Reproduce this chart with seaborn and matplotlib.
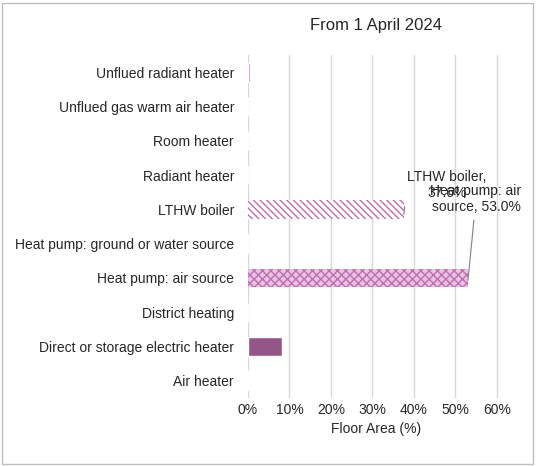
import matplotlib
matplotlib.use("Agg")
import matplotlib.pyplot as plt
import seaborn as sns
import pandas as pd

categories = ["Unflued radiant heater", "Unflued gas warm air heater", "Room heater",
              "Radiant heater", "LTHW boiler", "Heat pump: ground or water source",
              "Heat pump: air source", "District heating", "Direct or storage electric heater",
              "Air heater"]
values = [0.4, 0, 0, 0, 37.6, 0, 53.0, 0, 8.1, 0.2]
ticks = [0, 10, 20, 30, 40, 50, 60]

sns.set_theme(style="white")
plt.rcParams['font.family'] = ['Liberation Sans', 'DejaVu Sans']
fig = plt.figure(figsize=(5.36, 4.66), dpi=100)
ax = fig.add_axes([248/536, 1-398/466, 257/536, 343/466])
df = pd.DataFrame({"cat": categories, "val": values})
sns.barplot(data=df, y="cat", x="val", orient="h", color="#9e4a8e", width=0.55, ax=ax, zorder=3)
for p, c in zip(ax.patches, categories):
    if c == "LTHW boiler":
        p.set_facecolor("white"); p.set_edgecolor("#c06cb3"); p.set_hatch("\\\\\\\\\\"); p.set_linewidth(0)
    elif c == "Heat pump: air source":
        p.set_facecolor("#e8c3e0"); p.set_edgecolor("#c06cb3"); p.set_hatch("xxxx"); p.set_linewidth(0)
    elif c in ("Unflued radiant heater", "Air heater"):
        p.set_facecolor("#c06cb3")
ax.set_xlim(0, 62)
ax.set_xticks(ticks)
ax.set_xticklabels([f"{t}%" for t in ticks], fontsize=10)
ax.tick_params(axis="y", labelsize=10, length=0, pad=10)
ax.tick_params(axis="x", length=0)
ax.grid(axis="x", color="#d9d9d9", lw=1, zorder=0)
for s in ax.spines.values():
    s.set_visible(False)
ax.set_ylabel("")
ax.set_xlabel("Floor Area (%)", fontsize=10)
ax.set_title("From 1 April 2024", fontsize=12, pad=18)
i = categories.index("LTHW boiler")
ax.annotate("LTHW boiler,\n37.6%", xy=(37.6, i + 0.15), xytext=(48, i - 0.7),
            ha="center", va="center", fontsize=10, annotation_clip=False,
            arrowprops=dict(arrowstyle="-", color="#808080", lw=0.8, shrinkB=18,
                            connectionstyle="angle,angleA=0,angleB=85,rad=0"))
j = categories.index("Heat pump: air source")
ax.annotate("Heat pump: air\nsource, 53.0%", xy=(53.0, j + 0.15), xytext=(55, j - 2.3),
            ha="center", va="center", fontsize=10, annotation_clip=False,
            arrowprops=dict(arrowstyle="-", color="#808080", lw=0.8))
fig.add_artist(plt.Rectangle((0.004, 0.004), 0.99, 0.99, transform=fig.transFigure,
                             fill=False, edgecolor="#bfbfbf", lw=1))
fig.savefig("out.png", dpi=100)
